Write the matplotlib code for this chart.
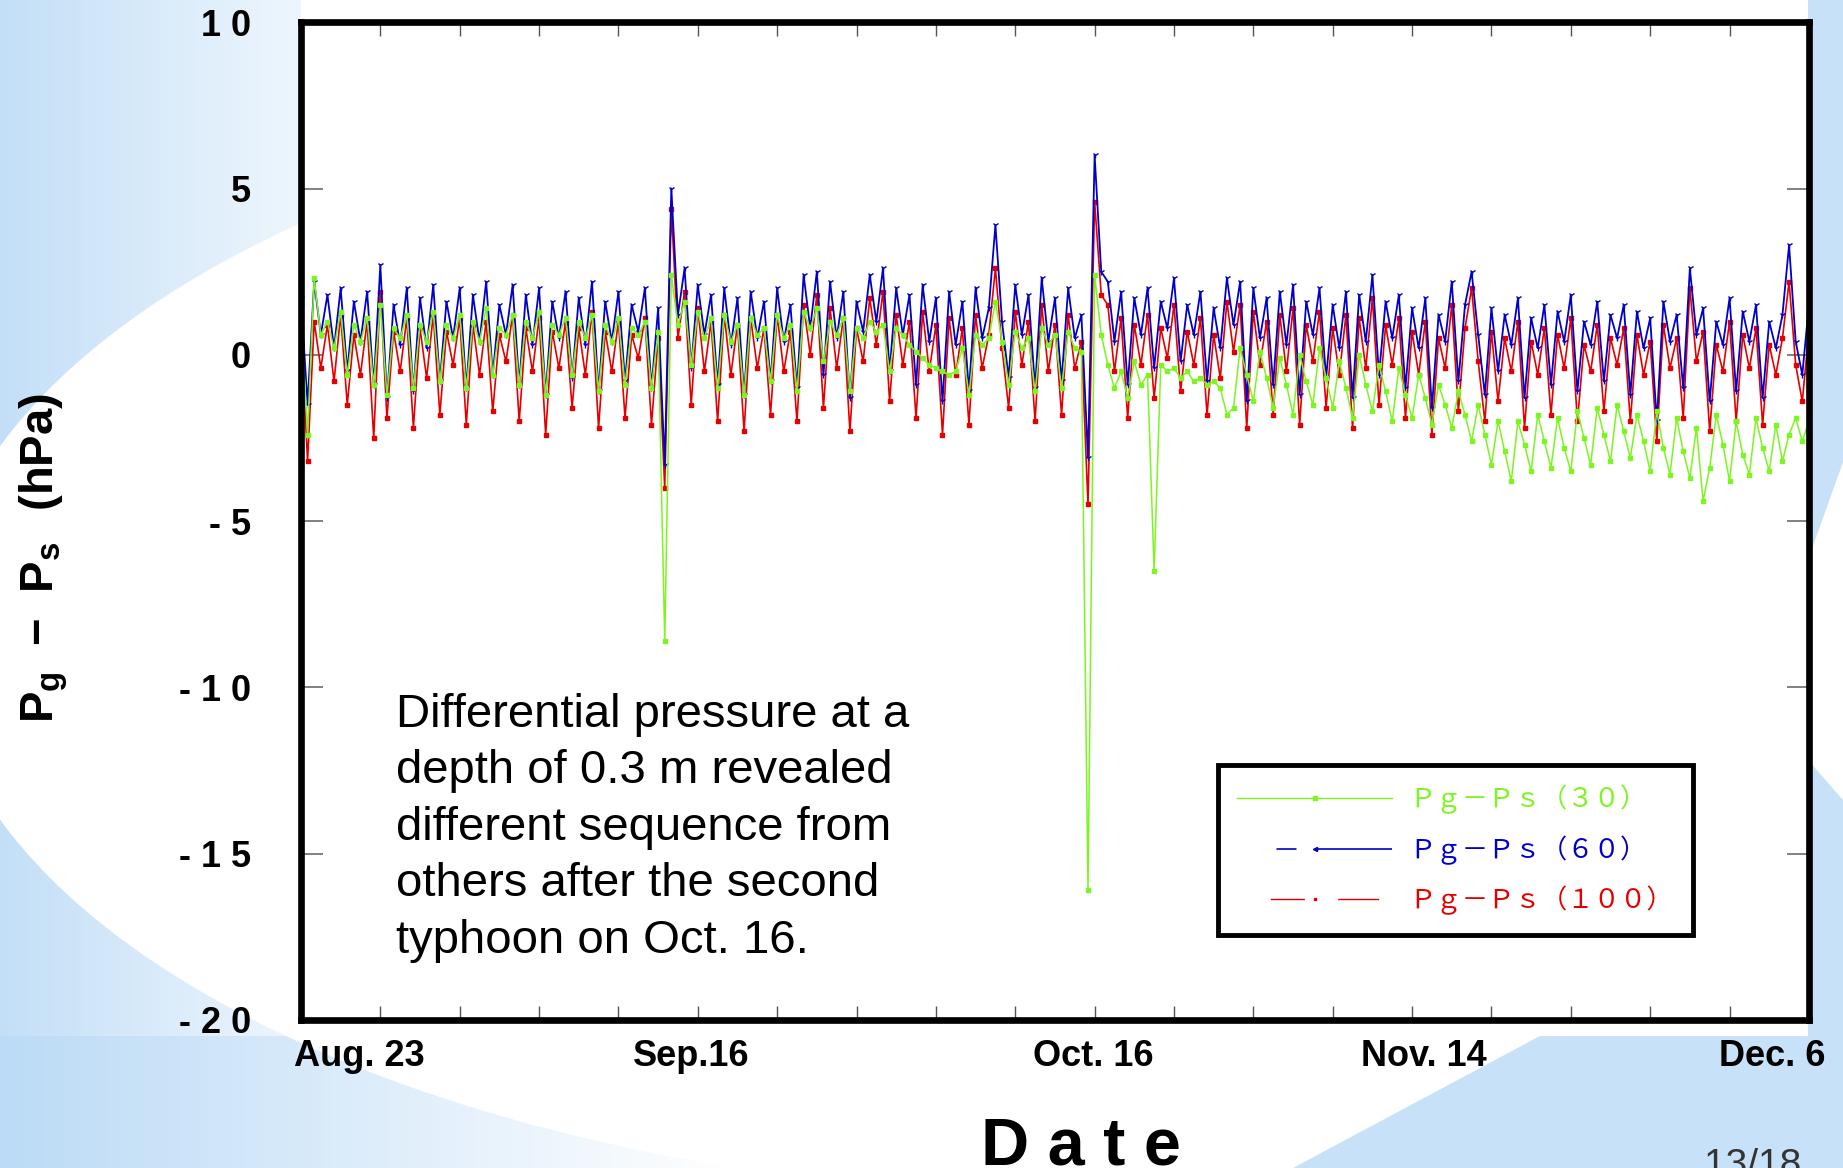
import numpy as np
import matplotlib
matplotlib.use("Agg")
import matplotlib.pyplot as plt
from matplotlib.lines import Line2D
from matplotlib.patches import Ellipse, Polygon, Rectangle
from matplotlib.colors import LinearSegmentedColormap
from matplotlib.font_manager import FontProperties

plt.rcParams['font.family'] = ['Liberation Sans', 'DejaVu Sans']
plt.rcParams['mathtext.fontset'] = 'custom'
plt.rcParams['mathtext.rm'] = 'Liberation Sans'
plt.rcParams['mathtext.bf'] = 'Liberation Sans:bold'

# ===============================
#  DATA (half-day samples, day 0 = Aug. 17)
# ===============================
step_days = 0.5

pg_ps_30 = [
    1.2, -2.4, 2.3, 0.6, 1.0, 0.2, 1.3, -0.6, 0.9, 0.4, 1.1, -0.9, 1.5, -1.2, 0.8, 0.5, 1.2, -1.0, 0.9, 0.4,
    1.3, -0.8, 0.9, 0.5, 1.2, -1.0, 1.0, 0.4, 1.4, -0.6, 0.8, 0.6, 1.2, -0.9, 1.0, 0.5, 1.3, -1.2, 0.9, 0.6,
    1.1, -0.6, 1.0, 0.5, 1.2, -1.1, 0.9, 0.4, 1.1, -0.9, 0.8, 0.6, 1.0, -1.0, 0.7, -8.6, 2.4, 0.9, 1.6, -0.3,
    1.3, 0.5, 1.1, -1.0, 1.2, 0.4, 0.9, -1.2, 1.1, 0.6, 0.8, -0.8, 1.2, 0.5, 0.9, -1.1, 1.3, 0.8, 1.4, -0.2,
    1.0, 0.6, 1.1, -1.1, 0.8, 0.5, 1.0, 0.7, 0.9, -0.5, 0.8, 0.6, 0.3, 0.1, -0.1, -0.3, -0.4, -0.5, -0.6, -0.5,
    0.2, -1.2, 0.6, 0.3, 0.5, 1.6, 0.4, -0.9, 0.7, 0.2, 0.5, -1.1, 0.8, 0.3, 0.6, -1.0, 0.7, 0.2, 0.1, -16.1,
    2.4, 0.6, -0.3, -1.0, -0.5, -1.3, -0.2, -0.9, -0.6, -6.5, -0.3, -0.5, -0.4, -0.7, -0.5, -0.8, -0.7, -0.9, -0.8, -1.0,
    -1.8, -1.6, 0.2, -0.6, -1.4, 0.1, -0.7, -1.6, -0.1, -0.9, -1.8, 0.0, -0.8, -1.5, 0.2, -0.7, -1.6, -0.2, -1.0, -1.9,
    0.0, -0.9, -1.7, -0.3, -1.1, -2.0, -0.4, -1.2, -1.9, -0.6, -1.3, -2.1, -0.9, -1.5, -2.2, -1.1, -1.8, -2.6, -1.5, -2.4,
    -3.3, -2.0, -2.9, -3.8, -2.0, -2.7, -3.5, -1.8, -2.6, -3.4, -1.9, -2.8, -3.5, -1.7, -2.5, -3.3, -1.6, -2.4, -3.2, -1.5,
    -2.3, -3.1, -1.8, -2.6, -3.5, -1.7, -2.8, -3.6, -1.9, -2.9, -3.7, -2.2, -4.4, -3.4, -1.8, -2.7, -3.8, -2.0, -3.0, -3.6,
    -1.9, -2.8, -3.5, -2.1, -3.2, -2.4, -1.9, -2.6, -2.0,
]

pg_ps_60 = [
    1.7, -1.5, 2.2, 0.6, 1.8, 0.2, 2.0, -0.5, 1.6, 0.4, 1.9, -0.9, 2.7, -1.3, 1.5, 0.3, 2.0, -1.1, 1.7, 0.2,
    2.1, -0.8, 1.6, 0.5, 2.0, -1.0, 1.8, 0.4, 2.2, -0.6, 1.5, 0.6, 2.1, -0.9, 1.8, 0.3, 2.0, -1.2, 1.6, 0.5,
    1.9, -0.7, 1.7, 0.3, 2.2, -1.1, 1.6, 0.4, 1.9, -0.8, 1.5, 0.7, 2.0, -1.0, 1.4, -3.3, 5.0, 1.2, 2.6, -0.4,
    2.1, 0.6, 1.8, -0.9, 2.0, 0.3, 1.7, -1.2, 1.9, 0.5, 1.6, -0.8, 2.0, 0.4, 1.5, -1.0, 2.4, 0.8, 2.5, -0.6,
    2.2, 0.5, 1.9, -1.3, 1.6, 0.7, 2.4, 1.0, 2.6, -0.5, 2.0, 0.6, 1.8, -0.9, 2.1, 0.4, 1.7, -1.4, 1.9, 0.3,
    1.6, -1.1, 2.0, 0.5, 1.4, 3.9, 1.0, -0.7, 2.1, 0.6, 1.8, -1.0, 2.3, 0.4, 1.7, -0.8, 2.0, 0.5, 1.2, -3.1,
    6.0, 2.5, 2.2, 0.4, 1.9, -0.9, 1.7, 0.6, 2.0, -0.4, 1.6, 0.8, 2.3, -0.2, 1.5, 0.6, 1.9, -0.8, 1.4, 0.2,
    2.3, 0.9, 2.2, -1.4, 2.0, 0.5, 1.7, -0.9, 1.9, 0.3, 2.1, -1.2, 1.6, 0.6, 2.0, -0.7, 1.5, 0.2, 1.9, -1.3,
    1.8, 0.4, 2.4, -0.6, 1.6, 0.5, 1.8, -1.0, 1.4, 0.2, 1.7, -1.6, 1.2, 0.4, 2.2, -0.8, 1.5, 2.5, 0.6, -1.2,
    1.4, -0.5, 1.2, 0.3, 1.7, -1.3, 1.1, 0.2, 1.5, -0.9, 1.3, 0.4, 1.8, -1.1, 1.0, 0.3, 1.6, -0.8, 1.2, 0.5,
    1.5, -1.2, 1.3, 0.2, 1.1, -2.0, 1.6, 0.4, 1.2, -1.0, 2.6, 0.6, 1.4, -1.4, 1.0, 0.3, 1.7, -1.1, 1.3, 0.4,
    1.5, -1.3, 1.0, 0.2, 1.2, 3.3, 0.4, -0.6, 1.5,
]

pg_ps_100 = [
    0.8, -3.2, 1.0, -0.4, 0.9, -0.8, 1.2, -1.5, 0.6, -0.6, 1.0, -2.5, 1.9, -1.9, 0.7, -0.5, 1.1, -2.2, 0.8, -0.7,
    1.2, -1.8, 0.7, -0.3, 1.1, -2.1, 0.9, -0.6, 1.0, -1.7, 0.6, -0.2, 1.2, -2.0, 0.8, -0.5, 1.1, -2.4, 0.7, -0.4,
    1.0, -1.6, 0.8, -0.6, 1.3, -2.2, 0.7, -0.5, 1.0, -1.9, 0.6, -0.1, 1.1, -2.1, 0.5, -4.0, 4.4, 0.5, 1.9, -1.5,
    1.4, -0.5, 1.0, -2.0, 1.2, -0.6, 0.9, -2.3, 1.1, -0.4, 0.8, -1.8, 1.2, -0.5, 0.7, -2.0, 1.5, 0.0, 1.8, -1.6,
    1.4, -0.4, 1.1, -2.3, 0.8, -0.2, 1.7, 0.3, 1.9, -1.4, 1.2, -0.3, 1.0, -1.9, 1.3, -0.5, 0.9, -2.4, 1.1, -0.6,
    0.8, -2.1, 1.2, -0.4, 0.6, 2.6, 0.2, -1.6, 1.3, -0.3, 1.0, -2.0, 1.5, -0.5, 0.9, -1.8, 1.2, -0.4, 0.4, -4.5,
    4.6, 1.8, 1.5, -0.5, 1.1, -1.9, 0.9, -0.3, 1.2, -1.3, 0.8, -0.1, 1.5, -1.1, 0.7, -0.3, 1.1, -1.8, 0.6, -0.7,
    1.6, 0.1, 1.5, -2.2, 1.3, -0.3, 1.0, -1.8, 1.2, -0.5, 1.4, -2.1, 0.9, -0.2, 1.3, -1.6, 0.8, -0.6, 1.2, -2.2,
    1.1, -0.4, 1.7, -1.5, 0.9, -0.3, 1.1, -1.9, 0.7, -0.6, 1.0, -2.4, 0.5, -0.4, 1.5, -1.7, 0.8, 2.0, -0.2, -2.0,
    0.7, -1.4, 0.5, -0.5, 1.0, -2.2, 0.4, -0.6, 0.8, -1.8, 0.6, -0.4, 1.1, -2.0, 0.3, -0.5, 0.9, -1.7, 0.5, -0.3,
    0.8, -2.0, 0.6, -0.6, 0.4, -2.6, 0.9, -0.4, 0.5, -1.9, 2.0, -0.2, 0.7, -2.3, 0.3, -0.5, 1.0, -2.0, 0.6, -0.4,
    0.8, -2.1, 0.3, -0.6, 0.5, 2.2, -0.3, -1.4, 0.7,
]

series_labels = ["Ｐｇ－Ｐｓ（３０）", "Ｐｇ－Ｐｓ（６０）", "Ｐｇ－Ｐｓ（１００）"]

date_labels = ["Aug. 23", "Sep.16", "Oct. 16", "Nov. 14", "Dec. 6"]
date_label_days = [4.4, 29.5, 59.9, 84.9, 111.2]

ytick_values = [-20, -15, -10, -5, 0, 5, 10]
ytick_labels = ["- 2 0", "- 1 5", "- 1 0", "- 5", "0", "5", "1 0"]

note = ("Differential pressure at a\n"
        "depth of 0.3 m revealed\n"
        "different sequence from\n"
        "others after the second\n"
        "typhoon on Oct. 16.")

GREEN = "#7cf520"
BLUE = "#0000c8"
RED = "#e40000"

# ===============================
#  FIGURE + SLIDE BACKGROUND
# ===============================
W, H = 1843, 1168
fig = plt.figure(figsize=(W / 100, H / 100), dpi=100)

bg = fig.add_axes([0, 0, 1, 1], zorder=-5)
bg.set_xlim(0, W)
bg.set_ylim(H, 0)
bg.axis("off")

left_cmap = LinearSegmentedColormap.from_list("left", ["#c3dff7", "#eef6fd"])
bottom_cmap = LinearSegmentedColormap.from_list(
    "bottom", [(0, "#bcdbf6"), (0.4, "#ffffff"), (0.62, "#ffffff"), (1, "#bcdbf6")])
ramp = np.linspace(0, 1, 256)[None, :]
bg.imshow(ramp, cmap=left_cmap, extent=(0, 301, 1036, 0), aspect="auto")
bg.imshow(ramp, cmap=bottom_cmap, extent=(0, W, H, 1036), aspect="auto")
bg.add_patch(Ellipse((1100, 633), 2 * 1166, 2 * 563, fc="white", ec="none"))
bg.add_patch(Rectangle((1808, 0), W - 1808, 1036, fc="#c6e1f8", ec="none"))
bg.add_patch(Polygon([(1808, 560), (W, 462), (W, 800), (1808, 760)], fc="white", ec="none"))
bg.add_patch(Polygon([(1540, 1036), (W, 1036), (W, H), (1293, H)], fc="#c6e1f8", ec="none"))
bg.set_xlim(0, W)
bg.set_ylim(H, 0)

# ===============================
#  MAIN PLOT
# ===============================
ax = fig.add_axes([0.1633, 0.1268, 0.8182, 0.8541])
ax.set_facecolor("white")

# red first, blue over it, green on top
for vals, color, mk, ms, lw in [(pg_ps_100, RED, "s", 2.2, 1.2),
                                (pg_ps_60, BLUE, "1", 4.5, 1.3),
                                (pg_ps_30, GREEN, "s", 2.4, 1.1)]:
    days = np.arange(len(vals)) * step_days
    ax.plot(days, vals, color=color, linewidth=lw, marker=mk, markersize=ms)

ax.set_xlim(0, 114)
ax.set_ylim(-20, 10)

for sp in ax.spines.values():
    sp.set_linewidth(4.8)
    sp.set_color("black")
    sp.set_zorder(5)

# ticks every 6 days, date labels placed separately
ax.set_xticks(np.arange(6, 114, 6), minor=True)
ax.set_xticks(date_label_days)
ax.set_xticklabels(date_labels, fontsize=26, fontweight="bold")
ax.tick_params(axis="x", which="major", length=0, pad=14)
ax.tick_params(axis="x", which="minor", direction="in", length=10, width=1,
               color="#555555", top=True, bottom=True)

ax.set_yticks(ytick_values)
ax.set_yticklabels(ytick_labels, fontsize=26, fontweight="bold")
ax.tick_params(axis="y", which="major", direction="in", length=16, width=1.4,
               color="#808080", left=True, right=True, pad=36)
ax.tick_params(axis="y", which="minor", left=False, right=False)

# legend with the original dash styles
handles = [
    Line2D([], [], color=GREEN, linewidth=1.0, marker="s", markersize=2.5),
    Line2D([], [], color=BLUE, linewidth=1.2, marker="<", markersize=3,
           linestyle=(78, (12, 12.7, 53, 24))),
    Line2D([], [], color=RED, linewidth=1.0, marker="s", markersize=1.5,
           linestyle=(78, (24.5, 24, 29.5, 24))),
]
leg = ax.legend(handles, series_labels, loc="upper left",
                bbox_to_anchor=(0.6607, 0.3451), bbox_transform=fig.transFigure,
                borderaxespad=0, prop=FontProperties(family="Noto Sans CJK JP", size=19),
                labelcolor="linecolor", frameon=True, fancybox=False,
                edgecolor="black", framealpha=1, handlelength=5.85,
                handletextpad=0.65, labelspacing=0.8, borderpad=0.75, numpoints=1)
leg.get_frame().set_linewidth(3.5)

ax.text(0.0633, 0.328, note, transform=ax.transAxes, fontsize=34,
        va="top", ha="left", linespacing=1.37)

# ===============================
#  AXIS TITLES + PAGE NUMBER
# ===============================
fig.text(0.0236, 0.522, r"$\mathbf{P_g\ -\ P_s\ \ (hPa)}$", rotation=90,
         fontsize=34, ha="center", va="center")
fig.text(0.5867, 0.003, "D a t e", fontsize=48, fontweight="bold",
         ha="center", va="baseline")
fig.text(0.9247, 0.017, "13/18", fontsize=28, color="#333333", ha="left", va="top")

fig.savefig("out.png", dpi=100)
